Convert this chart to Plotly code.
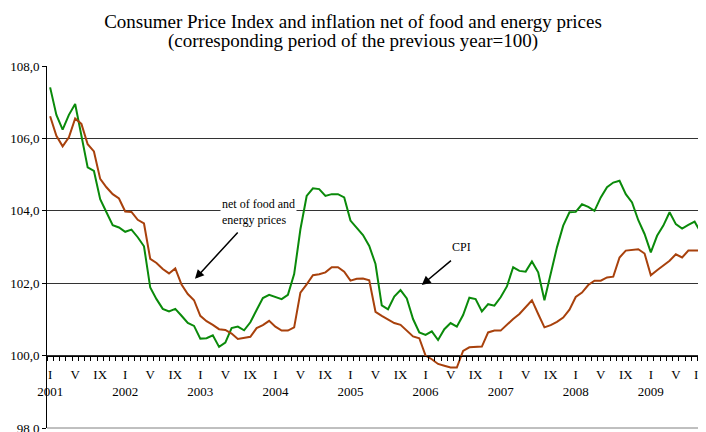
import plotly.graph_objects as go

# ---- data -------------------------------------------------------------
years = [2001, 2002, 2003, 2004, 2005, 2006, 2007, 2008, 2009]
roman = ["I", "II", "III", "IV", "V", "VI", "VII", "VIII", "IX", "X", "XI", "XII"]
months = [f"{y}-{m:02d}" for y in years for m in range(1, 13)][:105]  # Jan 2001 .. Sep 2009

cpi = [107.41, 106.65, 106.24, 106.65, 106.95, 106.10, 105.20, 105.10, 104.32, 103.96, 103.60, 103.54,
       103.42, 103.48, 103.27, 103.02, 101.88, 101.56, 101.29, 101.22, 101.29, 101.10, 100.90, 100.82,
       100.47, 100.48, 100.56, 100.24, 100.36, 100.76, 100.80, 100.70, 100.92, 101.26, 101.59, 101.68,
       101.61, 101.56, 101.68, 102.25, 103.49, 104.41, 104.62, 104.60, 104.41, 104.46, 104.46, 104.37,
       103.73, 103.54, 103.33, 103.03, 102.53, 101.39, 101.28, 101.63, 101.81, 101.58, 101.01, 100.64,
       100.57, 100.67, 100.43, 100.73, 100.90, 100.80, 101.12, 101.60, 101.56, 101.22, 101.42, 101.38,
       101.61, 101.91, 102.44, 102.34, 102.32, 102.60, 102.30, 101.53, 102.30, 102.99, 103.59, 103.96,
       103.97, 104.18, 104.11, 104.00, 104.37, 104.65, 104.78, 104.83, 104.46, 104.23, 103.74, 103.36,
       102.85, 103.31, 103.59, 103.96, 103.63, 103.51, 103.61, 103.70, 103.40]

core = [106.61, 106.07, 105.78, 106.03, 106.55, 106.40, 105.84, 105.64, 104.88, 104.65, 104.46, 104.34,
        103.98, 103.97, 103.75, 103.65, 102.67, 102.56, 102.39, 102.27, 102.41, 101.96, 101.70, 101.53,
        101.10, 100.95, 100.85, 100.73, 100.71, 100.61, 100.46, 100.48, 100.52, 100.76, 100.84, 100.96,
        100.80, 100.69, 100.69, 100.78, 101.74, 101.97, 102.22, 102.25, 102.30, 102.44, 102.44, 102.32,
        102.07, 102.12, 102.13, 102.08, 101.21, 101.10, 100.99, 100.90, 100.85, 100.69, 100.53, 100.48,
        100.00, 99.90, 99.77, 99.72, 99.67, 99.67, 100.13, 100.23, 100.25, 100.25, 100.64, 100.69,
        100.69, 100.86, 101.01, 101.15, 101.35, 101.53, 101.15, 100.78, 100.84, 100.93, 101.05, 101.27,
        101.62, 101.74, 101.95, 102.07, 102.07, 102.16, 102.18, 102.71, 102.90, 102.93, 102.94, 102.82,
        102.22, 102.36, 102.48, 102.62, 102.80, 102.71, 102.90, 102.90, 102.90]

y_ticks = [98, 100, 102, 104, 106, 108]
y_ticktext = ["98,0", "100,0", "102,0", "104,0", "106,0", "108,0"]
label_months = [1, 5, 9]  # I, V, IX

title_line1 = "Consumer Price Index and inflation net of food and energy prices"
title_line2 = "(corresponding period of the previous year=100)"

# ---- derived ----------------------------------------------------------
x = list(range(len(months)))
tickvals, ticktext = [], []
for i, mlab in enumerate(months):
    yy, mm = mlab.split("-")
    mm = int(mm)
    if mm in label_months:
        tickvals.append(i)
        ticktext.append(roman[mm - 1] + ("<br>" + yy if mm == 1 else ""))

SERIF = "Liberation Serif"
GREEN = "#0a8a0a"
BROWN = "#a8410c"
# the page body has an 8px margin, so the figure is sized/placed to compensate
W, H = 698, 424
ML, MR, MT, MB = 39, 2, 58, 4
PH = H - MT - MB

fig = go.Figure()
fig.add_trace(go.Scatter(x=x, y=cpi, mode="lines", name="CPI",
                         line=dict(color=GREEN, width=2)))
fig.add_trace(go.Scatter(x=x, y=core, mode="lines", name="net of food and energy prices",
                         line=dict(color=BROWN, width=2)))

fig.update_layout(
    width=W, height=H,
    margin=dict(l=ML, r=MR, t=MT, b=MB, autoexpand=False),
    paper_bgcolor="white", plot_bgcolor="white",
    showlegend=False,
    font=dict(family=SERIF, size=13, color="black"),
    title=dict(text=title_line1, xref="container", x=345 / W, xanchor="center",
               yref="container", y=1 - 13 / H, yanchor="middle",
               font=dict(family=SERIF, size=19, color="black")),
    xaxis=dict(range=[-0.5, len(months) - 0.5], anchor="free", position=0.2,
               automargin=False, ticklabeloverflow="allow",
               showline=True, linecolor="black", linewidth=1,
               showgrid=False, zeroline=False,
               tickmode="array", tickvals=tickvals, ticktext=ticktext,
               ticks="", ticklabelstandoff=7,
               tickfont=dict(family=SERIF, size=13),
               minor=dict(tickmode="linear", tick0=-0.5, dtick=1, ticks="outside",
                          ticklen=4, tickcolor="black", tickwidth=1, showgrid=False)),
    yaxis=dict(range=[98, 108], tickmode="array", tickvals=y_ticks, ticktext=y_ticktext,
               automargin=False, ticklabeloverflow="allow",
               showline=True, linecolor="black", linewidth=1,
               showgrid=True, gridcolor="#333333", gridwidth=1, zeroline=False,
               ticks="outside", ticklen=4, tickcolor="black",
               tickfont=dict(family=SERIF, size=13)),
)

# second title line
fig.add_annotation(text=title_line2, xref="paper", yref="paper",
                   x=(345 - ML) / (W - ML - MR), y=1 + (MT - 33) / PH,
                   xanchor="center", yanchor="middle",
                   showarrow=False, font=dict(family=SERIF, size=19, color="black"))

# plot-area border on the right and bottom
fig.add_shape(type="line", xref="paper", yref="paper", x0=1, x1=1, y0=0, y1=1,
              line=dict(color="#808080", width=1))
fig.add_shape(type="line", xref="paper", yref="paper", x0=0, x1=1, y0=0, y1=0,
              line=dict(color="#808080", width=1))

# annotations with arrows
fig.add_annotation(x=27.1, y=103.97, xref="x", yref="y", xanchor="left", yanchor="middle",
                   text="net of food and<br>energy prices", showarrow=False, align="left",
                   bgcolor="white", font=dict(family=SERIF, size=12))
fig.add_annotation(x=23.15, y=102.12, ax=30.2, ay=103.44, xref="x", yref="y",
                   axref="x", ayref="y", text="", showarrow=True,
                   arrowhead=2, arrowsize=1.2, arrowwidth=1.5, arrowcolor="black")
fig.add_annotation(x=65.8, y=103.01, xref="x", yref="y", xanchor="center", yanchor="middle",
                   text="CPI", showarrow=False, font=dict(family=SERIF, size=12))
fig.add_annotation(x=59.4, y=101.95, ax=64.3, ay=102.66, xref="x", yref="y",
                   axref="x", ayref="y", text="", showarrow=True,
                   arrowhead=2, arrowsize=1.2, arrowwidth=1.5, arrowcolor="black")

fig.write_html("out.html")
